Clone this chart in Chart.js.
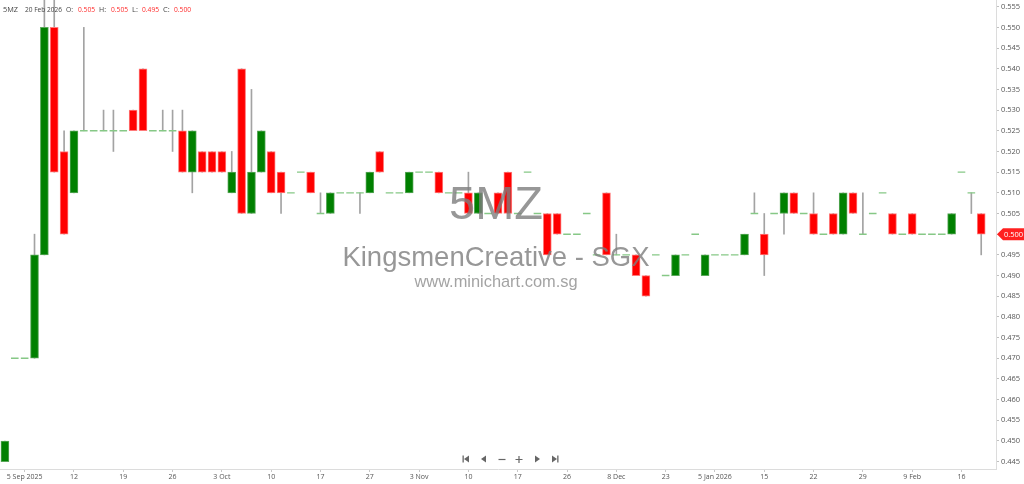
<!DOCTYPE html>
<html><head><meta charset="utf-8">
<script src="https://cdn.jsdelivr.net/npm/chart.js@4.4.1/dist/chart.umd.min.js"></script>
<style>html,body{margin:0;padding:0;background:#fff;overflow:hidden}#wrap{position:relative;width:1024px;height:484px}canvas{display:block}</style>
</head><body><div id="wrap"><canvas id="c" width="1024" height="484"></canvas></div>
<script>
const symbol = '5MZ';
const company = 'KingsmenCreative - SGX';
const site = 'www.minichart.com.sg';
const lastDate = '20 Feb 2026';

const opens = [
0.445,0.470,0.470,0.470,0.495,0.550,0.520,0.510,0.525,0.525,
0.525,0.525,0.525,0.530,0.540,0.525,0.525,0.525,0.525,0.515,
0.520,0.520,0.520,0.510,0.540,0.505,0.515,0.520,0.515,0.510,
0.515,0.515,0.505,0.505,0.510,0.510,0.510,0.510,0.520,0.510,
0.510,0.510,0.515,0.515,0.515,0.510,0.510,0.510,0.505,0.505,
0.510,0.515,0.505,0.515,0.505,0.505,0.505,0.500,0.500,0.505,
0.495,0.510,0.495,0.495,0.495,0.490,0.495,0.490,0.490,0.495,
0.500,0.490,0.495,0.495,0.495,0.495,0.505,0.500,0.505,0.505,
0.510,0.505,0.505,0.500,0.505,0.500,0.510,0.500,0.505,0.510,
0.505,0.500,0.505,0.500,0.500,0.500,0.500,0.515,0.510,0.505];
const highs = [
0.450,0.470,0.470,0.500,0.560,0.560,0.525,0.525,0.550,0.525,
0.530,0.530,0.525,0.530,0.540,0.525,0.530,0.530,0.530,0.525,
0.520,0.520,0.520,0.520,0.540,0.535,0.525,0.520,0.515,0.510,
0.515,0.515,0.510,0.510,0.510,0.510,0.510,0.515,0.520,0.510,
0.510,0.515,0.515,0.515,0.515,0.510,0.510,0.515,0.510,0.505,
0.510,0.515,0.505,0.515,0.505,0.505,0.505,0.500,0.500,0.505,
0.495,0.510,0.500,0.495,0.495,0.490,0.495,0.490,0.495,0.495,
0.500,0.495,0.495,0.495,0.495,0.500,0.510,0.505,0.505,0.510,
0.510,0.505,0.510,0.500,0.505,0.510,0.510,0.510,0.505,0.510,
0.505,0.500,0.505,0.500,0.500,0.500,0.505,0.515,0.510,0.505];
const lows = [
0.445,0.470,0.470,0.470,0.495,0.515,0.500,0.510,0.525,0.525,
0.525,0.520,0.525,0.525,0.525,0.525,0.525,0.520,0.515,0.510,
0.515,0.515,0.515,0.510,0.505,0.505,0.515,0.510,0.505,0.510,
0.515,0.510,0.505,0.505,0.510,0.510,0.505,0.510,0.515,0.510,
0.510,0.510,0.515,0.515,0.510,0.510,0.510,0.505,0.505,0.505,
0.505,0.505,0.505,0.515,0.505,0.495,0.500,0.500,0.500,0.505,
0.495,0.495,0.495,0.495,0.490,0.485,0.495,0.490,0.490,0.495,
0.500,0.490,0.495,0.495,0.495,0.495,0.505,0.490,0.505,0.500,
0.505,0.505,0.500,0.500,0.500,0.500,0.505,0.500,0.505,0.510,
0.500,0.500,0.500,0.500,0.500,0.500,0.500,0.515,0.505,0.495];
const closes = [
0.450,0.470,0.470,0.495,0.550,0.515,0.500,0.525,0.525,0.525,
0.525,0.525,0.525,0.525,0.525,0.525,0.525,0.525,0.515,0.525,
0.515,0.515,0.515,0.515,0.505,0.515,0.525,0.510,0.510,0.510,
0.515,0.510,0.505,0.510,0.510,0.510,0.510,0.515,0.515,0.510,
0.510,0.515,0.515,0.515,0.510,0.510,0.510,0.505,0.510,0.505,
0.505,0.505,0.505,0.515,0.505,0.495,0.500,0.500,0.500,0.505,
0.495,0.495,0.495,0.495,0.490,0.485,0.495,0.490,0.495,0.495,
0.500,0.495,0.495,0.495,0.495,0.500,0.505,0.495,0.505,0.510,
0.505,0.505,0.500,0.500,0.500,0.510,0.505,0.500,0.505,0.510,
0.500,0.500,0.500,0.500,0.500,0.500,0.505,0.515,0.510,0.500];

const xTickLabels = ['5 Sep 2025','12','19','26','3 Oct','10','17','27','3 Nov','10','17','26','8 Dec','23','5 Jan 2026','15','22','29','9 Feb','16'];
const xTickStart = 2, xTickStep = 5;
const yTickValues = [0.445,0.450,0.455,0.460,0.465,0.470,0.475,0.480,0.485,0.490,0.495,0.500,0.505,0.510,0.515,0.520,0.525,0.530,0.535,0.540,0.545,0.550,0.555];
const yMin = 0.44323, yMax = 0.55662;

const n = opens.length;
const labels = new Array(n + 1).fill('');
xTickLabels.forEach((t, k) => { labels[xTickStart + k * xTickStep] = t; });

const bodies = opens.map((o, i) => o === closes[i] ? null : [o, closes[i]]);
const bodyColors = opens.map((o, i) => closes[i] > o ? '#008000' : '#ff0000');
const bodyBorders = opens.map((o, i) => closes[i] > o ? '#5aa85a' : '#ff7a7a');
const wicks = highs.map((h, i) => h === lows[i] ? null : [lows[i], h]);
const doji = opens.map((o, i) => o === closes[i] ? o : null);

const overlay = {
  id: 'overlay',
  afterDraw(chart) {
    const ctx = chart.ctx;
    const ys = chart.scales.y;
    ctx.save();
    ctx.fillStyle = 'rgba(125,125,125,0.8)';
    ctx.textAlign = 'center';
    ctx.textBaseline = 'alphabetic';
    ctx.font = '47px "Liberation Sans", Arial, sans-serif';
    ctx.fillText(symbol, 496, 219);
    ctx.font = '27.5px "Liberation Sans", Arial, sans-serif';
    ctx.fillText(company, 496, 266);
    ctx.fillStyle = 'rgba(140,140,140,0.8)';
    ctx.font = '16.4px "Liberation Sans", Arial, sans-serif';
    ctx.fillText(site, 496, 287);

    ctx.textAlign = 'left';
    ctx.textBaseline = 'middle';
    ctx.font = '7.5px "Open Sans", sans-serif';
    const li = n - 1;
    const parts = [
      [symbol, 3, '#444', 15], [lastDate, 25, '#444', 37],
      ['O:', 66, '#444', 7], [opens[li].toFixed(3), 78, '#ff2a2a', 17],
      ['H:', 99, '#444', 7], [highs[li].toFixed(3), 111, '#ff2a2a', 17],
      ['L:', 132, '#444', 6], [lows[li].toFixed(3), 142, '#ff2a2a', 17],
      ['C:', 163, '#444', 7], [closes[li].toFixed(3), 174, '#ff2a2a', 17]
    ];
    parts.forEach(p => { ctx.fillStyle = p[2]; ctx.fillText(p[0], p[1], 10, p[3]); });

    const py = ys.getPixelForValue(closes[li]);
    const xl = chart.chartArea.right + 1;
    ctx.fillStyle = '#ff2020';
    ctx.beginPath();
    ctx.moveTo(xl, py);
    ctx.lineTo(xl + 6, py - 6);
    ctx.lineTo(1024, py - 6);
    ctx.lineTo(1024, py + 6);
    ctx.lineTo(xl + 6, py + 6);
    ctx.closePath();
    ctx.fill();
    ctx.fillStyle = '#fff';
    ctx.font = '7.5px "Open Sans", sans-serif';
    ctx.fillText(closes[li].toFixed(3), xl + 7, py + 0.5);

    const ny = 459;
    ctx.fillStyle = '#666';
    ctx.strokeStyle = '#666';
    ctx.lineWidth = 1.2;
    ctx.fillRect(462.5, ny - 3.5, 1.3, 7);
    ctx.beginPath(); ctx.moveTo(464, ny); ctx.lineTo(469, ny - 3.5); ctx.lineTo(469, ny + 3.5); ctx.closePath(); ctx.fill();
    ctx.beginPath(); ctx.moveTo(481, ny); ctx.lineTo(486, ny - 3.5); ctx.lineTo(486, ny + 3.5); ctx.closePath(); ctx.fill();
    ctx.beginPath(); ctx.moveTo(498.5, ny + 0.5); ctx.lineTo(505.5, ny + 0.5); ctx.stroke();
    ctx.beginPath(); ctx.moveTo(515.5, ny + 0.5); ctx.lineTo(522.5, ny + 0.5); ctx.moveTo(519, ny - 3); ctx.lineTo(519, ny + 4); ctx.stroke();
    ctx.beginPath(); ctx.moveTo(540, ny); ctx.lineTo(535, ny - 3.5); ctx.lineTo(535, ny + 3.5); ctx.closePath(); ctx.fill();
    ctx.beginPath(); ctx.moveTo(557, ny); ctx.lineTo(552, ny - 3.5); ctx.lineTo(552, ny + 3.5); ctx.closePath(); ctx.fill();
    ctx.fillRect(557.2, ny - 3.5, 1.3, 7);
    ctx.restore();
  }
};

new Chart(document.getElementById('c'), {
  type: 'bar',
  data: {
    labels: labels,
    datasets: [
      { type: 'bar', data: bodies, backgroundColor: bodyColors, borderColor: bodyBorders, borderWidth: 1, borderSkipped: false, barThickness: 8, grouped: false, order: 0 },
      { type: 'line', data: doji, showLine: false, pointStyle: 'line', pointRadius: 3.8, pointHoverRadius: 3.8, pointBorderColor: '#86c886', borderColor: '#86c886', pointBorderWidth: 1.4, order: 1 },
      { type: 'bar', data: wicks, backgroundColor: '#a3a3a3', barThickness: 1, grouped: false, order: 2 }
    ]
  },
  options: {
    responsive: false,
    animation: false,
    events: [],
    layout: { padding: 0, autoPadding: false },
    plugins: { legend: { display: false }, tooltip: { enabled: false } },
    scales: {
      x: {
        offset: true,
        grid: { display: true, drawOnChartArea: false, offset: false, tickLength: 3, color: c => (c.tick && c.tick.label) ? '#c8c8c8' : 'rgba(0,0,0,0)' },
        border: { color: '#dcdcdc' },
        ticks: { autoSkip: false, maxRotation: 0, minRotation: 0, padding: 1, color: '#555', font: { size: 7, family: '"Open Sans", sans-serif' } },
        afterFit(s) { s.height = 15; s.paddingLeft = 0; s.paddingRight = 0; }
      },
      y: {
        position: 'right',
        min: yMin, max: yMax,
        afterBuildTicks(s) { s.ticks = yTickValues.map(v => ({ value: v })); },
        grid: { drawOnChartArea: false, tickLength: 3, color: '#c0c0c0' },
        border: { color: '#dcdcdc' },
        ticks: { callback: v => Number(v).toFixed(3), padding: 2, color: '#555', font: { size: 7.5, family: '"Open Sans", sans-serif' } },
        afterFit(s) { s.width = 28; s.paddingTop = 0; s.paddingBottom = 0; }
      }
    }
  },
  plugins: [overlay]
});
</script>
</body></html>
